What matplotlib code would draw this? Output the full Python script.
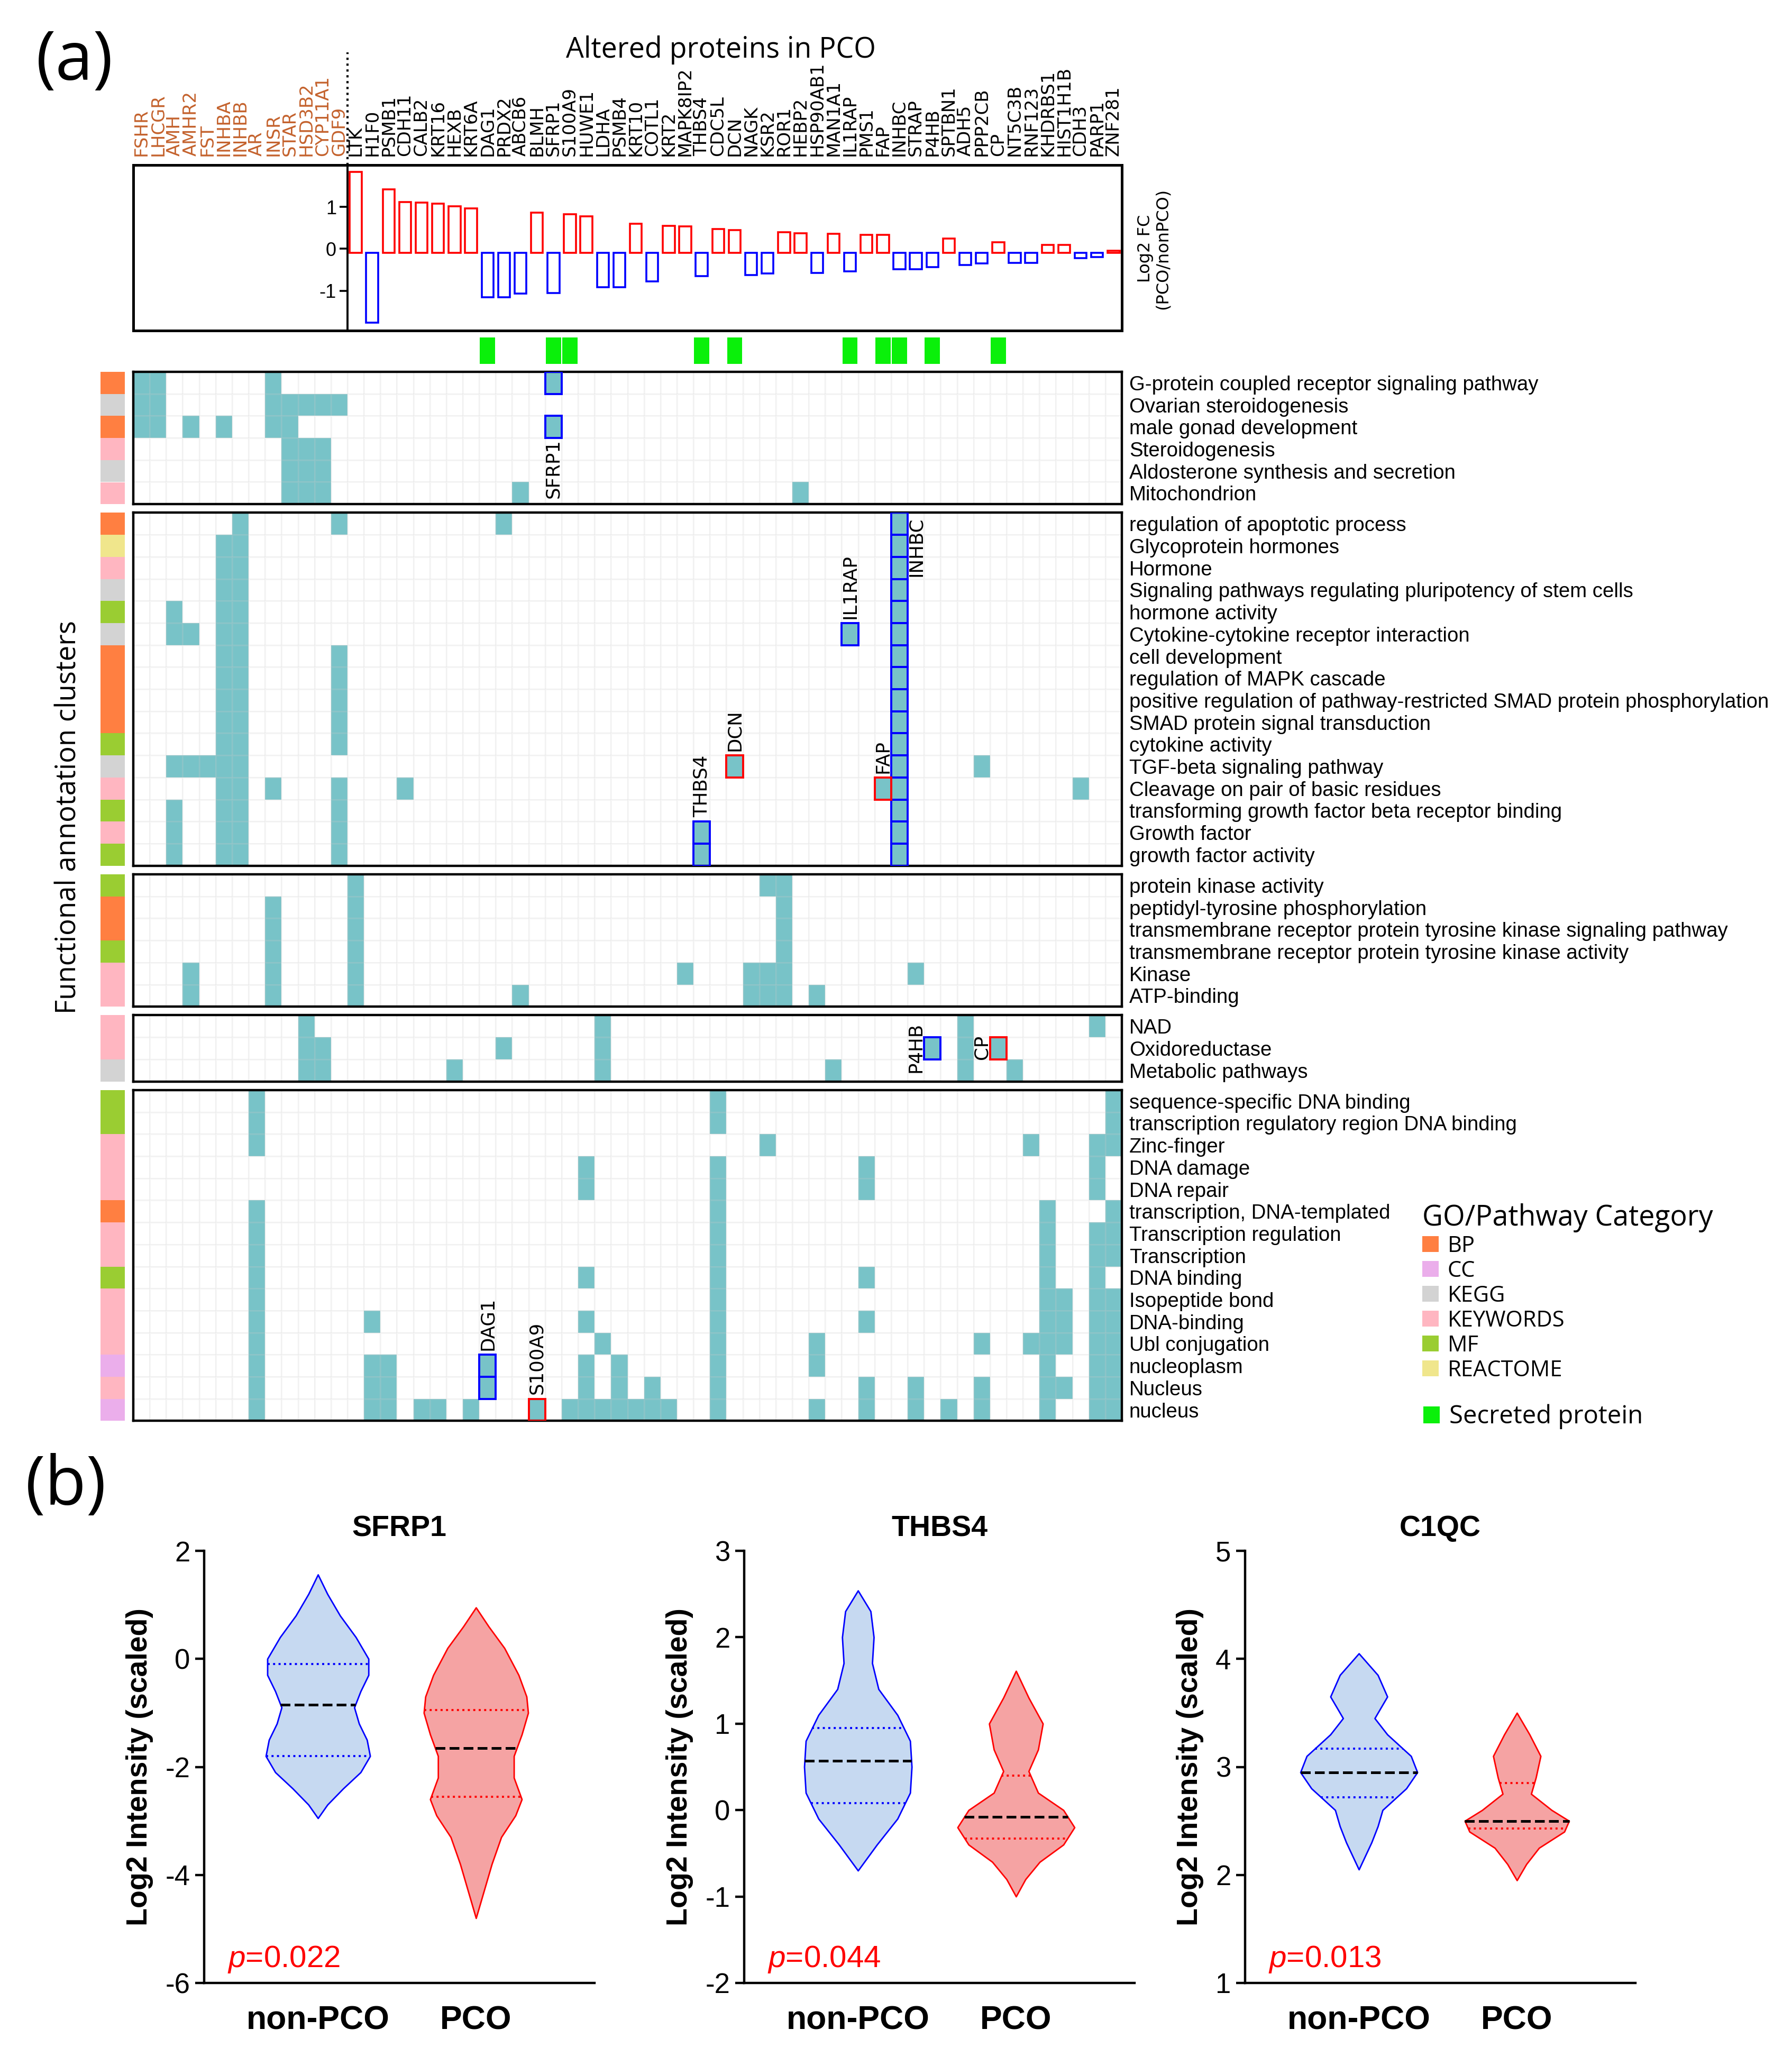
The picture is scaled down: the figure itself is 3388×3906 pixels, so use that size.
import numpy as np
import matplotlib.pyplot as plt
from matplotlib.patches import Rectangle, Patch
from matplotlib.colors import ListedColormap
import matplotlib.transforms as mtransforms

plt.rcParams['font.family'] = ['Liberation Sans', 'DejaVu Sans']
plt.rcParams['mathtext.fontset'] = 'custom'
plt.rcParams['mathtext.rm'] = 'Liberation Sans'
plt.rcParams['mathtext.it'] = 'Liberation Sans:italic'
plt.rcParams['axes.unicode_minus'] = False

# --- panel (a): proteins, fold changes, secreted ---
marker_genes = ['FSHR', 'LHCGR', 'AMH', 'AMHR2', 'FST', 'INHBA', 'INHBB', 'AR', 'INSR',
                'STAR', 'HSD3B2', 'CYP11A1', 'GDF9']
altered_genes = ['LTK', 'H1F0', 'PSMB1', 'CDH11', 'CALB2', 'KRT16', 'HEXB', 'KRT6A', 'DAG1',
                 'PRDX2', 'ABCB6', 'BLMH', 'SFRP1', 'S100A9', 'HUWE1', 'LDHA', 'PSMB4', 'KRT10',
                 'COTL1', 'KRT2', 'MAPK8IP2', 'THBS4', 'CDC5L', 'DCN', 'NAGK', 'KSR2', 'ROR1',
                 'HEBP2', 'HSP90AB1', 'MAN1A1', 'IL1RAP', 'PMS1', 'FAP', 'INHBC', 'STRAP', 'P4HB',
                 'SPTBN1', 'ADH5', 'PPP2CB', 'CP', 'NT5C3B', 'RNF123', 'KHDRBS1', 'HIST1H1B',
                 'CDH3', 'PARP1', 'ZNF281']
log2fc = [1.84, -1.76, 1.42, 1.12, 1.11, 1.08, 1.02, 0.97, -1.16, -1.16, -1.07, 0.86, -1.05,
          0.83, 0.77, -0.92, -0.92, 0.60, -0.78, 0.55, 0.53, -0.65, 0.47, 0.45, -0.63, -0.59,
          0.40, 0.37, -0.57, 0.36, -0.54, 0.34, 0.33, -0.49, -0.49, -0.43, 0.24, -0.39, -0.35,
          0.16, -0.33, -0.33, 0.10, 0.09, -0.22, -0.20, -0.04]
secreted = ['DAG1', 'SFRP1', 'S100A9', 'THBS4', 'DCN', 'IL1RAP', 'FAP', 'INHBC', 'P4HB', 'CP']
gene_cols = marker_genes + altered_genes

cat_names = ['BP', 'CC', 'KEGG', 'KEYWORDS', 'MF', 'REACTOME']
cat_colors = ['#FF7F41', '#EBAEEB', '#D3D3D3', '#FFB6C1', '#9ACD32', '#F0E68C']

# --- annotation clusters ---
block1_terms = ['G-protein coupled receptor signaling pathway', 'Ovarian steroidogenesis',
                'male gonad development', 'Steroidogenesis',
                'Aldosterone synthesis and secretion', 'Mitochondrion']
block1_cats = ['BP', 'KEGG', 'BP', 'KEYWORDS', 'KEGG', 'KEYWORDS']
block1_genes = [['FSHR', 'LHCGR', 'INSR', 'SFRP1'],
                ['FSHR', 'LHCGR', 'INSR', 'STAR', 'HSD3B2', 'CYP11A1', 'GDF9'],
                ['FSHR', 'LHCGR', 'AMHR2', 'INHBA', 'INSR', 'STAR', 'SFRP1'],
                ['STAR', 'HSD3B2', 'CYP11A1'],
                ['STAR', 'HSD3B2', 'CYP11A1'],
                ['STAR', 'HSD3B2', 'CYP11A1', 'ABCB6', 'HEBP2']]

block2_terms = ['regulation of apoptotic process', 'Glycoprotein hormones', 'Hormone',
                'Signaling pathways regulating pluripotency of stem cells', 'hormone activity',
                'Cytokine-cytokine receptor interaction', 'cell development',
                'regulation of MAPK cascade',
                'positive regulation of pathway-restricted SMAD protein phosphorylation',
                'SMAD protein signal transduction', 'cytokine activity',
                'TGF-beta signaling pathway', 'Cleavage on pair of basic residues',
                'transforming growth factor beta receptor binding', 'Growth factor',
                'growth factor activity']
block2_cats = ['BP', 'REACTOME', 'KEYWORDS', 'KEGG', 'MF', 'KEGG', 'BP', 'BP', 'BP', 'BP',
               'MF', 'KEGG', 'KEYWORDS', 'MF', 'KEYWORDS', 'MF']
block2_genes = [['INHBB', 'GDF9', 'PRDX2', 'INHBC'],
                ['INHBA', 'INHBB', 'INHBC'],
                ['INHBA', 'INHBB', 'INHBC'],
                ['INHBA', 'INHBB', 'INHBC'],
                ['AMH', 'INHBA', 'INHBB', 'INHBC'],
                ['AMH', 'AMHR2', 'INHBA', 'INHBB', 'IL1RAP', 'INHBC'],
                ['INHBA', 'INHBB', 'GDF9', 'INHBC'],
                ['INHBA', 'INHBB', 'GDF9', 'INHBC'],
                ['INHBA', 'INHBB', 'GDF9', 'INHBC'],
                ['INHBA', 'INHBB', 'GDF9', 'INHBC'],
                ['INHBA', 'INHBB', 'GDF9', 'INHBC'],
                ['AMH', 'AMHR2', 'FST', 'INHBA', 'INHBB', 'DCN', 'INHBC', 'PPP2CB'],
                ['INHBA', 'INHBB', 'INSR', 'GDF9', 'CDH11', 'FAP', 'INHBC', 'CDH3'],
                ['AMH', 'INHBA', 'INHBB', 'GDF9', 'INHBC'],
                ['AMH', 'INHBA', 'INHBB', 'GDF9', 'THBS4', 'INHBC'],
                ['AMH', 'INHBA', 'INHBB', 'GDF9', 'THBS4', 'INHBC']]

block3_terms = ['protein kinase activity', 'peptidyl-tyrosine phosphorylation',
                'transmembrane receptor protein tyrosine kinase signaling pathway',
                'transmembrane receptor protein tyrosine kinase activity', 'Kinase',
                'ATP-binding']
block3_cats = ['MF', 'BP', 'BP', 'MF', 'KEYWORDS', 'KEYWORDS']
block3_genes = [['LTK', 'KSR2', 'ROR1'],
                ['INSR', 'LTK', 'ROR1'],
                ['INSR', 'LTK', 'ROR1'],
                ['INSR', 'LTK', 'ROR1'],
                ['AMHR2', 'INSR', 'LTK', 'MAPK8IP2', 'NAGK', 'KSR2', 'ROR1', 'STRAP'],
                ['AMHR2', 'INSR', 'LTK', 'ABCB6', 'NAGK', 'KSR2', 'ROR1', 'HSP90AB1']]

block4_terms = ['NAD', 'Oxidoreductase', 'Metabolic pathways']
block4_cats = ['KEYWORDS', 'KEYWORDS', 'KEGG']
block4_genes = [['HSD3B2', 'LDHA', 'ADH5', 'PARP1'],
                ['HSD3B2', 'CYP11A1', 'PRDX2', 'LDHA', 'P4HB', 'ADH5', 'CP'],
                ['HSD3B2', 'CYP11A1', 'HEXB', 'LDHA', 'MAN1A1', 'ADH5', 'NT5C3B']]

block5_terms = ['sequence-specific DNA binding', 'transcription regulatory region DNA binding',
                'Zinc-finger', 'DNA damage', 'DNA repair', 'transcription, DNA-templated',
                'Transcription regulation', 'Transcription', 'DNA binding', 'Isopeptide bond',
                'DNA-binding', 'Ubl conjugation', 'nucleoplasm', 'Nucleus', 'nucleus']
block5_cats = ['MF', 'MF', 'KEYWORDS', 'KEYWORDS', 'KEYWORDS', 'BP', 'KEYWORDS', 'KEYWORDS',
               'MF', 'KEYWORDS', 'KEYWORDS', 'KEYWORDS', 'CC', 'KEYWORDS', 'CC']
block5_genes = [['AR', 'CDC5L', 'ZNF281'],
                ['AR', 'CDC5L', 'ZNF281'],
                ['AR', 'KSR2', 'RNF123', 'PARP1', 'ZNF281'],
                ['HUWE1', 'CDC5L', 'PMS1', 'PARP1'],
                ['HUWE1', 'CDC5L', 'PMS1', 'PARP1'],
                ['AR', 'CDC5L', 'KHDRBS1', 'ZNF281'],
                ['AR', 'CDC5L', 'KHDRBS1', 'PARP1', 'ZNF281'],
                ['AR', 'CDC5L', 'KHDRBS1', 'PARP1', 'ZNF281'],
                ['AR', 'HUWE1', 'CDC5L', 'PMS1', 'KHDRBS1', 'PARP1'],
                ['AR', 'CDC5L', 'KHDRBS1', 'HIST1H1B', 'PARP1', 'ZNF281'],
                ['AR', 'H1F0', 'HUWE1', 'CDC5L', 'PMS1', 'KHDRBS1', 'HIST1H1B', 'PARP1', 'ZNF281'],
                ['AR', 'LDHA', 'CDC5L', 'HSP90AB1', 'PPP2CB', 'RNF123', 'KHDRBS1', 'HIST1H1B',
                 'PARP1', 'ZNF281'],
                ['AR', 'H1F0', 'PSMB1', 'DAG1', 'HUWE1', 'PSMB4', 'CDC5L', 'HSP90AB1', 'KHDRBS1',
                 'PARP1', 'ZNF281'],
                ['AR', 'H1F0', 'PSMB1', 'DAG1', 'HUWE1', 'PSMB4', 'COTL1', 'CDC5L', 'PMS1',
                 'STRAP', 'PPP2CB', 'KHDRBS1', 'HIST1H1B', 'PARP1', 'ZNF281'],
                ['AR', 'H1F0', 'PSMB1', 'CALB2', 'KRT16', 'KRT6A', 'BLMH', 'S100A9', 'HUWE1',
                 'LDHA', 'PSMB4', 'KRT10', 'COTL1', 'KRT2', 'CDC5L', 'HSP90AB1', 'PMS1', 'STRAP',
                 'SPTBN1', 'PPP2CB', 'KHDRBS1', 'PARP1', 'ZNF281']]

# boxed cells: block, column gene, terms, label, label side
highlights = [
    (0, 'SFRP1', ['G-protein coupled receptor signaling pathway', 'male gonad development'], 'SFRP1', 'below'),
    (1, 'IL1RAP', ['Cytokine-cytokine receptor interaction'], 'IL1RAP', 'above'),
    (1, 'INHBC', block2_terms, 'INHBC', 'right'),
    (1, 'THBS4', ['Growth factor', 'growth factor activity'], 'THBS4', 'above'),
    (1, 'DCN', ['TGF-beta signaling pathway'], 'DCN', 'above'),
    (1, 'FAP', ['Cleavage on pair of basic residues'], 'FAP', 'above'),
    (3, 'P4HB', ['Oxidoreductase'], 'P4HB', 'left'),
    (3, 'CP', ['Oxidoreductase'], 'CP', 'left'),
    (4, 'DAG1', ['nucleoplasm', 'Nucleus'], 'DAG1', 'above'),
    (4, 'BLMH', ['nucleus'], 'S100A9', 'above'),
]

# --- panel (b): violin outlines (value, half width) ---
violin_titles = ['SFRP1', 'THBS4', 'C1QC']
groups = ['non-PCO', 'PCO']
p_values = ['0.022', '0.044', '0.013']
sfrp1_non = [(1.56, 0), (1.2, 0.06), (0.8, 0.14), (0.4, 0.24), (0.0, 0.32), (-0.3, 0.32),
             (-0.6, 0.27), (-0.9, 0.23), (-1.2, 0.26), (-1.5, 0.31), (-1.8, 0.33),
             (-2.1, 0.27), (-2.4, 0.16), (-2.7, 0.06), (-2.95, 0)]
sfrp1_pco = [(0.95, 0), (0.6, 0.08), (0.2, 0.18), (-0.3, 0.27), (-0.7, 0.32), (-1.0, 0.33),
             (-1.4, 0.29), (-1.8, 0.24), (-2.2, 0.24), (-2.6, 0.29), (-2.9, 0.25),
             (-3.3, 0.16), (-3.8, 0.10), (-4.3, 0.05), (-4.8, 0)]
thbs4_non = [(2.54, 0), (2.3, 0.08), (2.0, 0.10), (1.7, 0.09), (1.4, 0.13), (1.1, 0.25),
             (0.8, 0.33), (0.5, 0.34), (0.2, 0.33), (-0.1, 0.25), (-0.4, 0.12), (-0.7, 0)]
thbs4_pco = [(1.61, 0), (1.3, 0.08), (1.0, 0.17), (0.7, 0.14), (0.45, 0.08), (0.2, 0.14),
             (0.0, 0.30), (-0.2, 0.37), (-0.4, 0.30), (-0.6, 0.15), (-0.8, 0.06), (-1.0, 0)]
c1qc_non = [(4.05, 0), (3.85, 0.12), (3.65, 0.18), (3.45, 0.10), (3.3, 0.18), (3.1, 0.33),
            (2.95, 0.37), (2.8, 0.30), (2.6, 0.15), (2.45, 0.12), (2.3, 0.08), (2.05, 0)]
c1qc_pco = [(3.5, 0), (3.3, 0.08), (3.1, 0.15), (2.9, 0.12), (2.75, 0.09), (2.6, 0.22),
            (2.5, 0.33), (2.4, 0.30), (2.25, 0.14), (2.1, 0.06), (1.95, 0)]
# quartiles: lower, median, upper
sfrp1_quart = [(-1.8, -0.85, -0.1), (-2.55, -1.65, -0.95)]
thbs4_quart = [(0.08, 0.57, 0.95), (-0.33, -0.08, 0.4)]
c1qc_quart = [(2.72, 2.95, 3.17), (2.43, 2.5, 2.85)]
violin_ylims = [(-6, 2), (-2, 3), (1, 5)]
violin_yticks = [[-6, -4, -2, 0, 2], [-2, -1, 0, 1, 2, 3], [1, 2, 3, 4, 5]]

# --- figure in pixel layout ---
W, H = 3388, 3906
DPI = 200
fig = plt.figure(figsize=(W / DPI, H / DPI), dpi=DPI)


def px_axes(left, top, width, height):
    return fig.add_axes([left / W, 1 - (top + height) / H, width / W, height / H])


TEAL = '#78C3C8'
RED, BLUE = '#FF0000', '#0000FF'
HM_LEFT, HM_WIDTH = 252, 1869
ROW_H, BLOCK_GAP, HM_TOP = 41.7, 16.3, 703
BAR_BASE = -0.1
n_cols = len(gene_cols)
n_mark = len(marker_genes)

fig.text(68 / W, 1 - 118 / H, '(a)', fontsize=46, family='Open Sans', va='center')
fig.text(1363 / W, 1 - 95 / H, 'Altered proteins in PCO', fontsize=19.3, family='Open Sans',
         ha='center', va='center')

# fold-change bars
ax_bar = px_axes(HM_LEFT, 312, HM_WIDTH, 313)
x_alt = np.arange(n_mark, n_cols)
fc = np.array(log2fc)
bar_colors = [RED if v > BAR_BASE else BLUE for v in fc]
ax_bar.bar(x_alt, fc - BAR_BASE, bottom=BAR_BASE, width=0.72, facecolor='white',
           edgecolor=bar_colors, linewidth=1.3)
ax_bar.set_xlim(-0.5, n_cols - 0.5)
ax_bar.set_ylim(-1.95, 2.0)
for side in ['top', 'right', 'bottom']:
    ax_bar.spines[side].set_visible(False)
ax_bar.spines['left'].set_position(('data', n_mark - 0.5))
ax_bar.spines['left'].set_linewidth(1.4)
ax_bar.add_patch(Rectangle((0, 0), 1, 1, transform=ax_bar.transAxes, fill=False,
                           lw=1.8, ec='black', clip_on=False))
ax_bar.set_yticks([-1, 0, 1, 2])
ax_bar.set_yticklabels(['-1', '0', '1', ''], fontsize=13)
ax_bar.tick_params(axis='y', length=5.5, width=1.3, pad=2)
ax_bar.xaxis.set_ticks_position('top')
ax_bar.set_xticks(np.arange(n_cols))
ax_bar.set_xticklabels(gene_cols, rotation=90, fontsize=12.2, family='DejaVu Sans')
ax_bar.tick_params(axis='x', length=0, pad=6)
for i, lab in enumerate(ax_bar.get_xticklabels()):
    lab.set_color('#C4622D' if i < n_mark else 'black')
blend = mtransforms.blended_transform_factory(ax_bar.transData, ax_bar.transAxes)
ax_bar.plot([n_mark - 0.5, n_mark - 0.5], [1.0, 1.68], transform=blend, ls=':', color='black',
            lw=1.5, clip_on=False)
fig.text(2182 / W, 1 - 470 / H, 'Log2 FC\n(PCO/nonPCO)', rotation=90, fontsize=11.5,
         family='DejaVu Sans', ha='center', va='center', multialignment='center',
         linespacing=1.1)

# secreted strip
ax_sec = px_axes(HM_LEFT, 638, HM_WIDTH, 50)
sec_x = [gene_cols.index(g) for g in secreted]
ax_sec.bar(sec_x, 1, width=0.92, color='#0AF00A')
ax_sec.set_xlim(-0.5, n_cols - 0.5)
ax_sec.set_ylim(0, 1)
ax_sec.axis('off')

# heatmap blocks
blocks = [(block1_terms, block1_cats, block1_genes),
          (block2_terms, block2_cats, block2_genes),
          (block3_terms, block3_cats, block3_genes),
          (block4_terms, block4_cats, block4_genes),
          (block5_terms, block5_cats, block5_genes)]
cmap = ListedColormap(['white', TEAL])
block_axes = []
top = HM_TOP
for terms, cats, genes in blocks:
    n = len(terms)
    h = n * ROW_H
    ax = px_axes(HM_LEFT, top, HM_WIDTH, h)
    mat = np.zeros((n, n_cols))
    for i, gl in enumerate(genes):
        for g in gl:
            mat[i, gene_cols.index(g)] = 1
    ax.pcolormesh(np.arange(n_cols + 1) - 0.5, np.arange(n + 1), mat, cmap=cmap, vmin=0,
                  vmax=1, edgecolors=(0.8, 0.8, 0.8, 0.18), linewidth=0.5)
    ax.set_xlim(-0.5, n_cols - 0.5)
    ax.set_ylim(n, 0)
    ax.set_xticks([])
    ax.yaxis.tick_right()
    ax.set_yticks(np.arange(n) + 0.5)
    ax.set_yticklabels(terms, fontsize=13.8)
    ax.tick_params(axis='y', length=0, pad=5)
    for s in ax.spines.values():
        s.set_linewidth(1.6)
    side_ax = px_axes(190, top, 46, h)
    side_ax.barh(np.arange(n) + 0.5, 1, height=1,
                 color=[cat_colors[cat_names.index(c)] for c in cats])
    side_ax.set_xlim(0, 1)
    side_ax.set_ylim(n, 0)
    side_ax.axis('off')
    block_axes.append(ax)
    top += h + BLOCK_GAP

for b, gene, terms, label, where in highlights:
    ax = block_axes[b]
    col = gene_cols.index(gene)
    rows = [blocks[b][0].index(t) for t in terms]
    color = RED if log2fc[altered_genes.index(label)] > 0 else BLUE
    for r in rows:
        ax.add_patch(Rectangle((col - 0.5, r), 1, 1, fill=False, ec=color, lw=1.4, zorder=3))
    kw = dict(rotation=90, fontsize=12.8, family='DejaVu Sans', ha='center')
    if where == 'above':
        ax.text(col, min(rows) - 0.2, label, va='bottom', **kw)
    elif where == 'below':
        ax.text(col, max(rows) + 1.05, label, va='top', **kw)
    elif where == 'right':
        ax.text(col + 1, 0.2, label, va='top', **kw)
    else:
        ax.text(col - 1, min(rows) + 0.45, label, va='center', **kw)

fig.text(130 / W, 1 - 1545 / H, 'Functional annotation clusters', rotation=90, fontsize=19,
         family='Open Sans', ha='center', va='center')

# legends
cat_handles = [Patch(facecolor=c, edgecolor='none') for c in cat_colors]
leg1 = fig.legend(cat_handles, cat_names, loc='upper left',
                  bbox_to_anchor=(2672 / W, 1 - 2258 / H), frameon=False,
                  title='GO/Pathway Category', title_fontsize=19.3, alignment='left',
                  prop={'family': 'Open Sans', 'size': 15}, handlelength=0.75,
                  handleheight=0.75, handletextpad=0.4, labelspacing=0.12, borderaxespad=0)
leg1.get_title().set_family('Open Sans')
fig.legend([Patch(facecolor='#0AF00A', edgecolor='none')], ['Secreted protein'],
           loc='upper left', bbox_to_anchor=(2672 / W, 1 - 2636 / H), frameon=False,
           prop={'family': 'Open Sans', 'size': 17}, handlelength=0.65, handleheight=0.65,
           handletextpad=0.4, borderaxespad=0)

# --- panel (b) ---
fig.text(48 / W, 1 - 2812 / H, '(b)', fontsize=46, family='Open Sans', va='center')
profiles = [(sfrp1_non, sfrp1_pco), (thbs4_non, thbs4_pco), (c1qc_non, c1qc_pco)]
quarts = [sfrp1_quart, thbs4_quart, c1qc_quart]
fills = ['#C6D9F1', '#F5A3A3']
edges = [BLUE, RED]
for k, left in enumerate([386, 1407, 2354]):
    ax = px_axes(left, 2932, 738, 817)
    for g in range(2):
        prof = np.array(profiles[k][g])
        y, w = prof[:, 0], prof[:, 1]
        ax.fill_betweenx(y, g - w, g + w, facecolor=fills[g], edgecolor=edges[g], lw=1.0)
        order = np.argsort(y)
        lo, med, hi = quarts[k][g]
        for q, style, c in [(lo, ':', edges[g]), (hi, ':', edges[g]), (med, '--', 'black')]:
            hw = np.interp(q, y[order], w[order])
            ax.plot([g - hw, g + hw], [q, q], ls=style, color=c,
                    lw=1.8 if style == '--' else 1.4)
    ax.set_xlim(-0.72, 1.75)
    ax.set_ylim(*violin_ylims[k])
    ax.set_yticks(violin_yticks[k])
    ax.set_xticks([0, 1])
    ax.set_xticklabels(groups, fontsize=22.5, fontweight='bold')
    ax.tick_params(axis='x', length=0, pad=15)
    ax.tick_params(axis='y', labelsize=19, length=6, width=1.6)
    for s in ['top', 'right']:
        ax.spines[s].set_visible(False)
    for s in ['left', 'bottom']:
        ax.spines[s].set_linewidth(1.6)
    ax.set_title(violin_titles[k], fontsize=20, fontweight='bold', pad=10)
    ax.set_ylabel('Log2 Intensity (scaled)', fontsize=20, fontweight='bold', labelpad=8)
    ax.text(0.06, 0.055, r'$\mathit{p}$=' + p_values[k], transform=ax.transAxes, color=RED,
            fontsize=21, va='center')

fig.savefig('out.png', dpi=DPI)
